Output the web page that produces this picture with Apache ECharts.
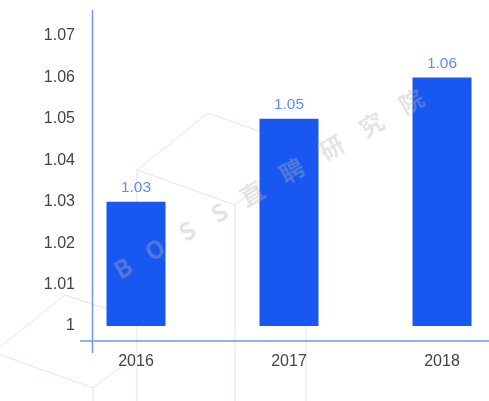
<!DOCTYPE html>
<html>
<head>
<meta charset="utf-8">
<script src="https://cdn.jsdelivr.net/npm/echarts@6/dist/echarts.min.js"></script>
<style>html,body{margin:0;padding:0;background:#fff}#c{width:489px;height:401px}</style>
</head>
<body>
<div id="c"></div>
<script>
var categories = ['2016', '2017', '2018'];
var values = [1.03, 1.05, 1.06];
var yMin = 1, yMax = 1.07, yStep = 0.01;
var watermarkChars = ['B', 'O', 'S', 'S', '直', '聘', '研', '究', '院'];

var chart = echarts.init(document.getElementById('c'));
var lineCol = '#dce4f6';
var graphics = [];
function ln(x1, y1, x2, y2, color, w, z) {
  graphics.push({type: 'line', z: z || 0, silent: true,
    shape: {x1: x1, y1: y1, x2: x2, y2: y2},
    style: {stroke: color, lineWidth: w || 1}});
}
// background decorative isometric boxes
ln(137, 170, 208, 113, lineCol); ln(208, 113, 306, 148, lineCol);
ln(137, 170, 235, 205, lineCol); ln(235, 205, 306, 148, lineCol);
ln(137, 170, 137, 401, lineCol); ln(235, 205, 235, 401, lineCol); ln(306, 148, 306, 401, lineCol);
ln(-10, 355, 65, 295, lineCol); ln(65, 295, 107, 309, lineCol);
ln(-10, 351, 93, 388, lineCol); ln(93, 388, 137, 355, lineCol); ln(93, 388, 93, 401, lineCol);
// axis lines
ln(92.5, 10, 92.5, 353, '#7196e8', 1.5, 5);
ln(80, 341, 489, 341, '#7196e8', 1.5, 5);
// watermark
var pos = 0;
watermarkChars.forEach(function (ch, i) {
  var x = 123 + pos * Math.cos(Math.PI / 6), y = 268 - pos * Math.sin(Math.PI / 6);
  graphics.push({type: 'text', z: 100, silent: true, x: x, y: y, rotation: Math.PI / 6,
    style: {text: ch, fill: 'rgba(180,180,180,0.36)', font: 'bold 24px "Noto Sans CJK SC", "Liberation Sans", sans-serif',
      align: 'center', verticalAlign: 'middle'}});
  pos += (i < 3) ? 37 : (i === 3 ? 38 : 46);
});

chart.setOption({
  animation: false,
  backgroundColor: '#fff',
  grid: {left: 59.5, top: 36, width: 459, height: 290, containLabel: false, outerBoundsMode: 'none'},
  xAxis: {
    type: 'category', data: categories, offset: 15,
    axisLine: {show: false}, axisTick: {show: false},
    axisLabel: {color: '#444', fontSize: 16, margin: 13, fontFamily: 'Liberation Sans'}
  },
  yAxis: {
    type: 'value', min: yMin, max: yMax, interval: yStep, offset: -32.5,
    axisLine: {show: false}, axisTick: {show: false}, splitLine: {show: false},
    axisLabel: {color: '#444', fontSize: 16, margin: 17, fontFamily: 'Liberation Sans',
      formatter: function (v) { return String(+v.toFixed(2)); }}
  },
  series: [{
    type: 'bar', data: values, barWidth: 59, z: 2,
    itemStyle: {color: '#1857f0'},
    label: {show: true, position: 'top', distance: 6, color: '#5b8ef0', fontSize: 15.5,
      fontFamily: 'Liberation Sans', formatter: function (p) { return p.value.toFixed(2); }}
  }],
  graphic: graphics
});
</script>
</body>
</html>
